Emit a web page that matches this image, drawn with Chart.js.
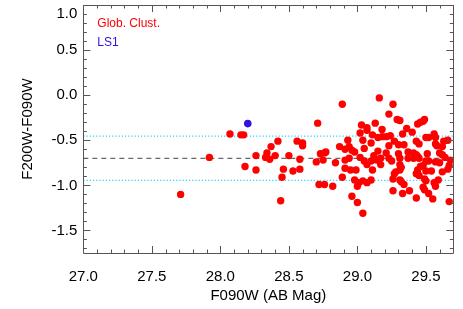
<!DOCTYPE html>
<html>
<head>
<meta charset="utf-8">
<script src="https://cdn.jsdelivr.net/npm/chart.js@4"></script>
<style>
  html, body { margin: 0; padding: 0; background: #ffffff; }
  #wrap { width: 463px; height: 309px; position: relative; }
</style>
</head>
<body>
<div id="wrap"><canvas id="c"></canvas></div>
<script>
// ---- Data ----
const gcMag = [
  27.71, 27.92, 28.07, 28.15, 28.17, 28.18, 28.26, 28.26, 28.34, 28.33,
  28.36, 28.37, 28.40, 28.42, 28.46, 28.45, 28.44, 28.50, 28.53, 28.56,
  28.58, 28.58, 28.60, 28.60, 28.70, 28.72, 28.76, 28.71, 28.73, 28.75,
  28.76, 28.77, 28.82, 28.84, 28.87, 28.89, 28.89, 28.91, 28.93, 28.91,
  28.94, 28.94, 28.95, 28.96, 28.98, 28.96, 28.98, 28.99, 29.00, 29.00,
  29.01, 29.02, 29.02, 29.03, 29.04, 29.04, 29.04, 29.05, 29.05, 29.07,
  29.07, 29.07, 29.07, 29.10, 29.10, 29.11, 29.10, 29.11, 29.12, 29.13,
  29.14, 29.16, 29.26, 29.23, 29.29, 29.31, 29.36, 29.44, 29.46, 29.48,
  29.49, 29.40, 29.33, 29.18, 29.18, 29.21, 29.24, 29.15, 29.27, 29.50,
  29.52, 29.56, 29.57, 29.43, 29.45, 29.63, 29.66, 29.23, 29.30, 29.34,
  29.57, 29.58, 29.62, 29.15, 29.21, 29.30, 29.37, 29.41, 29.43, 29.44,
  29.51, 29.60, 29.62, 29.23, 29.25, 29.31, 29.37, 29.41, 29.45, 29.50,
  29.52, 29.57, 29.60, 29.64, 29.68, 29.17, 29.32, 29.31, 29.46, 29.48,
  29.44, 29.43, 29.45, 29.50, 29.54, 29.67, 29.66, 29.28, 29.62, 29.26,
  29.31, 29.32, 29.34, 29.49, 29.50, 29.56, 29.57, 29.59, 29.48, 29.49,
  29.26, 29.33, 29.38, 29.52, 29.55, 29.43, 29.67, 29.17, 28.91, 29.27,
  29.31
];
const gcColor = [
  -1.10, -0.69, -0.43, -0.44, -0.44, -0.79, -0.83, -0.67, -0.64, -0.69,
  -0.71, -0.57, -0.67, -0.51, -0.82, -0.91, -1.17, -0.67, -0.84, -0.51,
  -0.71, -0.82, -0.56, -0.53, -0.74, -0.99, -0.99, -0.31, -0.65, -0.72,
  -0.64, -0.63, -1.01, -0.75, -0.57, -0.10, -0.91, -0.60, -0.50, -0.81,
  -0.57, -0.70, -0.83, -0.61, -0.63, -1.12, -0.94, -0.83, -1.19, -1.01,
  -0.97, -0.69, -0.42, -0.33, -1.31, -0.95, -0.50, -0.59, -0.73, -0.39,
  -0.36, -0.77, -0.97, -0.73, -0.53, -0.44, -0.94, -0.83, -0.67, -0.31,
  -0.72, -0.03, -0.10, -0.21, -0.27, -0.28, -0.37, -0.32, -0.30, -0.29,
  -0.27, -0.41, -0.43, -0.38, -0.46, -0.46, -0.45, -0.47, -0.51, -0.47,
  -0.47, -0.43, -0.47, -0.51, -0.54, -0.51, -0.50, -0.56, -0.55, -0.55,
  -0.54, -0.56, -0.57, -0.62, -0.64, -0.65, -0.63, -0.64, -0.66, -0.68,
  -0.65, -0.64, -0.66, -0.70, -0.73, -0.70, -0.70, -0.70, -0.70, -0.73,
  -0.73, -0.74, -0.75, -0.69, -0.72, -0.77, -0.80, -0.77, -0.79, -0.78,
  -0.83, -0.87, -0.89, -0.84, -0.84, -0.78, -0.82, -0.85, -0.85, -0.93,
  -0.94, -0.96, -0.99, -0.93, -0.95, -0.97, -1.01, -0.94, -1.02, -1.05,
  -1.06, -1.09, -1.06, -1.09, -1.15, -1.14, -1.18, -0.70, -0.72, -0.87,
  -0.83
];
const ls1Mag = [28.20];
const ls1Color = [-0.315];
const meanColor = -0.70;
const colorScatter = 0.245;
const xTickValues = [27.0, 27.5, 28.0, 28.5, 29.0, 29.5];
const yTickValues = [-1.5, -1.0, -0.5, 0.0, 0.5, 1.0];
const xLimits = [27.0, 29.7];
const yLimits = [-1.75, 1.0];
const seriesLabels = ['Glob. Clust.', 'LS1'];
const axisTitles = ['F090W (AB Mag)', 'F200W-F090W'];

// ---- Build datasets ----
const gcPoints = gcMag.map((m, i) => ({ x: m, y: gcColor[i] }));
const ls1Points = ls1Mag.map((m, i) => ({ x: m, y: ls1Color[i] }));
const hLine = (v) => xLimits.map(x => ({ x: x, y: v }));

const FONT = '"Liberation Sans", Arial, Helvetica, sans-serif';
const FRAME = '#555555';

// Inward IDL-style tick marks on all four sides + in-plot labels
const tickPlugin = {
  id: 'idlTicks',
  afterDraw(chart) {
    const { ctx, chartArea: a, scales } = chart;
    const xs = scales.x, ys = scales.y;
    ctx.save();
    ctx.strokeStyle = FRAME;
    ctx.lineWidth = 1;
    ctx.beginPath();
    ctx.rect(Math.round(a.left) + 0.5, Math.round(a.top) + 0.5,
             Math.round(a.right - a.left), Math.round(a.bottom - a.top));
    ctx.stroke();
    const isMajor = (v) => Math.abs(v / 0.5 - Math.round(v / 0.5)) < 1e-6;
    ctx.beginPath();
    for (let k = Math.round(xLimits[0] * 10); k <= Math.round(xLimits[1] * 10); k++) {
      const v = k / 10;
      const px = Math.round(xs.getPixelForValue(v)) + 0.5;
      const len = isMajor(v) ? 7 : 3.5;
      ctx.moveTo(px, a.bottom); ctx.lineTo(px, a.bottom - len);
      ctx.moveTo(px, a.top); ctx.lineTo(px, a.top + len);
    }
    for (let k = Math.ceil(yLimits[0] * 10); k <= Math.round(yLimits[1] * 10); k++) {
      const v = k / 10;
      const py = Math.round(ys.getPixelForValue(v)) + 0.5;
      const len = isMajor(v) ? 7 : 3.5;
      ctx.moveTo(a.left, py); ctx.lineTo(a.left + len, py);
      ctx.moveTo(a.right, py); ctx.lineTo(a.right - len, py);
    }
    ctx.stroke();
    ctx.font = '12px ' + FONT;
    ctx.textBaseline = 'middle';
    ctx.textAlign = 'left';
    ctx.fillStyle = '#ff0000';
    ctx.fillText(seriesLabels[0], a.left + 14, a.top + 19);
    ctx.fillStyle = '#3311dd';
    ctx.fillText(seriesLabels[1], a.left + 14, a.top + 38);
    ctx.restore();
  }
};

new Chart(document.getElementById('c'), {
  type: 'scatter',
  data: {
    datasets: [
      { label: seriesLabels[1], data: ls1Points, backgroundColor: '#3311dd',
        borderWidth: 0, pointRadius: 3.8 },
      { label: seriesLabels[0], data: gcPoints, backgroundColor: '#ff0000',
        borderWidth: 0, pointRadius: 3.7 },
      { type: 'line', data: hLine(meanColor), borderColor: '#444444', borderWidth: 1,
        borderDash: [5, 4], pointRadius: 0, fill: false },
      { type: 'line', data: hLine(meanColor + colorScatter), borderColor: '#22d4ff', borderWidth: 1.2,
        borderDash: [1.2, 2], pointRadius: 0, fill: false },
      { type: 'line', data: hLine(meanColor - colorScatter), borderColor: '#22d4ff', borderWidth: 1.2,
        borderDash: [1.2, 2], pointRadius: 0, fill: false }
    ]
  },
  options: {
    responsive: true,
    maintainAspectRatio: false,
    animation: false,
    events: [],
    layout: { padding: { top: 5, right: 9.7, bottom: 0, left: 0 } },
    plugins: { legend: { display: false }, tooltip: { enabled: false } },
    scales: {
      x: {
        type: 'linear', min: xLimits[0], max: xLimits[1],
        afterBuildTicks: (s) => { s.ticks = xTickValues.map(v => ({ value: v })); },
        afterFit: (s) => { s.height -= s.options.ticks.padding; },
        grid: { display: false, drawTicks: false },
        border: { display: false },
        ticks: { color: '#000', padding: 15, font: { size: 15, family: FONT },
                 callback: (v) => Number(v).toFixed(1), maxRotation: 0 },
        title: { display: true, text: axisTitles[0], color: '#000',
                 font: { size: 15, family: FONT }, padding: { top: 1, bottom: 4 } }
      },
      y: {
        type: 'linear', min: yLimits[0], max: yLimits[1],
        afterBuildTicks: (s) => { s.ticks = yTickValues.map(v => ({ value: v })); },
        afterFit: (s) => { s.paddingTop = 0; s.paddingBottom = 0; s.width -= 3.5; },
        grid: { display: false, drawTicks: false },
        border: { display: false },
        ticks: { color: '#000', padding: 6, font: { size: 15, family: FONT },
                 callback: (v) => (v >= yLimits[1] - 1e-9 ? ['', Number(v).toFixed(1)] : Number(v).toFixed(1)) },
        title: { display: true, text: axisTitles[1], color: '#000',
                 font: { size: 15, family: FONT }, padding: { top: 19, bottom: 12 } }
      }
    }
  },
  plugins: [tickPlugin]
});
</script>
</body>
</html>
